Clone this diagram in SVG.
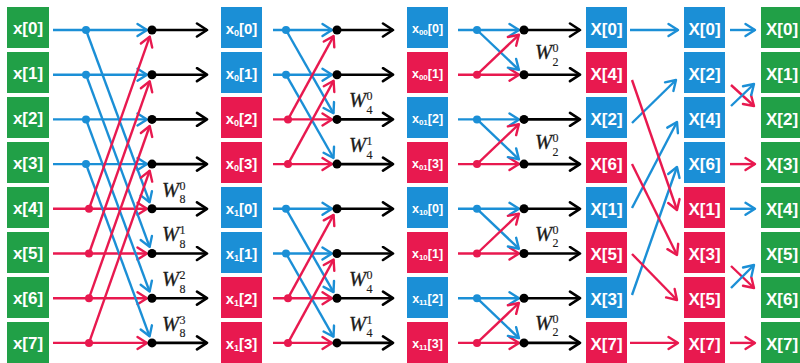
<svg xmlns="http://www.w3.org/2000/svg" width="800" height="363" viewBox="0 0 800 363">
  <defs>
    <style>
      .g { fill: #21a047; }
      .b { fill: #1b8fd6; }
      .r { fill: #e8194f; }
      .lbl { fill: #ffffff; font-family: "Liberation Sans", Arial, Helvetica, sans-serif; font-weight: bold; text-anchor: middle; }
      .t1 { font-size: 17px; }
      .t2 { font-size: 15px; }
      .t3 { font-size: 12.5px; }
      .s2 { font-size: 9px; }
      .s3 { font-size: 8px; }
      .lb { stroke: #1b8fd6; stroke-width: 2.4; fill: none; marker-end: url(#ab); }
      .lr { stroke: #e8194f; stroke-width: 2.4; fill: none; marker-end: url(#ar); }
      .lk { stroke: #000000; stroke-width: 2.6; fill: none; marker-end: url(#ak); }
      .dk { fill: #000000; }
      .db { fill: #1b8fd6; }
      .dr { fill: #e8194f; }
      .tw { font-family: "Liberation Serif", "Times New Roman", serif; fill: #1a1a1a; font-size: 12px; stroke: #1a1a1a; stroke-width: 0.15; }
      .w { font-style: italic; font-size: 20.5px; stroke-width: 0.3; }
    </style>
    <marker id="ab" viewBox="-12 -8 14 16" refX="0" refY="0" markerWidth="14" markerHeight="16" markerUnits="userSpaceOnUse" orient="auto">
      <path d="M-9.5,-6 L0,0 L-9.5,6" fill="none" stroke="#1b8fd6" stroke-width="2.4" stroke-linecap="round" stroke-linejoin="round"/>
    </marker>
    <marker id="ar" viewBox="-12 -8 14 16" refX="0" refY="0" markerWidth="14" markerHeight="16" markerUnits="userSpaceOnUse" orient="auto">
      <path d="M-9.5,-6 L0,0 L-9.5,6" fill="none" stroke="#e8194f" stroke-width="2.4" stroke-linecap="round" stroke-linejoin="round"/>
    </marker>
    <marker id="ak" viewBox="-12 -8 14 16" refX="0" refY="0" markerWidth="14" markerHeight="16" markerUnits="userSpaceOnUse" orient="auto">
      <path d="M-10,-6.5 L0,0 L-10,6.5" fill="none" stroke="#000000" stroke-width="2.6" stroke-linecap="round" stroke-linejoin="round"/>
    </marker>
  </defs>

  <rect width="800" height="363" fill="#ffffff"/>

  <!-- Column 1: time-domain inputs -->
  <g id="col1">
    <g id="in0"><rect class="g" x="7" y="7" width="42" height="41"/><text class="lbl t1" x="28" y="34">x[0]</text></g>
    <g id="in1"><rect class="g" x="7" y="52" width="42" height="41"/><text class="lbl t1" x="28" y="79">x[1]</text></g>
    <g id="in2"><rect class="g" x="7" y="97" width="42" height="41"/><text class="lbl t1" x="28" y="124">x[2]</text></g>
    <g id="in3"><rect class="g" x="7" y="142" width="42" height="41"/><text class="lbl t1" x="28" y="169">x[3]</text></g>
    <g id="in4"><rect class="g" x="7" y="187" width="42" height="41"/><text class="lbl t1" x="28" y="214">x[4]</text></g>
    <g id="in5"><rect class="g" x="7" y="232" width="42" height="41"/><text class="lbl t1" x="28" y="259">x[5]</text></g>
    <g id="in6"><rect class="g" x="7" y="277" width="42" height="41"/><text class="lbl t1" x="28" y="304">x[6]</text></g>
    <g id="in7"><rect class="g" x="7" y="322" width="42" height="41"/><text class="lbl t1" x="28" y="349">x[7]</text></g>
  </g>

  <!-- Column 2: first split -->
  <g id="col2">
    <g id="s1_0"><rect class="b" x="221" y="7" width="41" height="41"/><text class="lbl t2" x="241.5" y="33.5">x<tspan class="s2" dy="2">0</tspan><tspan dy="-2">[0]</tspan></text></g>
    <g id="s1_1"><rect class="b" x="221" y="52" width="41" height="41"/><text class="lbl t2" x="241.5" y="78.5">x<tspan class="s2" dy="2">0</tspan><tspan dy="-2">[1]</tspan></text></g>
    <g id="s1_2"><rect class="r" x="221" y="97" width="41" height="41"/><text class="lbl t2" x="241.5" y="123.5">x<tspan class="s2" dy="2">0</tspan><tspan dy="-2">[2]</tspan></text></g>
    <g id="s1_3"><rect class="r" x="221" y="142" width="41" height="41"/><text class="lbl t2" x="241.5" y="168.5">x<tspan class="s2" dy="2">0</tspan><tspan dy="-2">[3]</tspan></text></g>
    <g id="s1_4"><rect class="b" x="221" y="187" width="41" height="41"/><text class="lbl t2" x="241.5" y="213.5">x<tspan class="s2" dy="2">1</tspan><tspan dy="-2">[0]</tspan></text></g>
    <g id="s1_5"><rect class="b" x="221" y="232" width="41" height="41"/><text class="lbl t2" x="241.5" y="258.5">x<tspan class="s2" dy="2">1</tspan><tspan dy="-2">[1]</tspan></text></g>
    <g id="s1_6"><rect class="r" x="221" y="277" width="41" height="41"/><text class="lbl t2" x="241.5" y="303.5">x<tspan class="s2" dy="2">1</tspan><tspan dy="-2">[2]</tspan></text></g>
    <g id="s1_7"><rect class="r" x="221" y="322" width="41" height="41"/><text class="lbl t2" x="241.5" y="348.5">x<tspan class="s2" dy="2">1</tspan><tspan dy="-2">[3]</tspan></text></g>
  </g>

  <!-- Column 3: second split -->
  <g id="col3">
    <g id="s2_0"><rect class="b" x="407" y="7" width="41" height="41"/><text class="lbl t3" x="427.5" y="32.5">x<tspan class="s3" dy="2">00</tspan><tspan dy="-2">[0]</tspan></text></g>
    <g id="s2_1"><rect class="r" x="407" y="52" width="41" height="41"/><text class="lbl t3" x="427.5" y="77.5">x<tspan class="s3" dy="2">00</tspan><tspan dy="-2">[1]</tspan></text></g>
    <g id="s2_2"><rect class="b" x="407" y="97" width="41" height="41"/><text class="lbl t3" x="427.5" y="122.5">x<tspan class="s3" dy="2">01</tspan><tspan dy="-2">[2]</tspan></text></g>
    <g id="s2_3"><rect class="r" x="407" y="142" width="41" height="41"/><text class="lbl t3" x="427.5" y="167.5">x<tspan class="s3" dy="2">01</tspan><tspan dy="-2">[3]</tspan></text></g>
    <g id="s2_4"><rect class="b" x="407" y="187" width="41" height="41"/><text class="lbl t3" x="427.5" y="212.5">x<tspan class="s3" dy="2">10</tspan><tspan dy="-2">[0]</tspan></text></g>
    <g id="s2_5"><rect class="r" x="407" y="232" width="41" height="41"/><text class="lbl t3" x="427.5" y="257.5">x<tspan class="s3" dy="2">10</tspan><tspan dy="-2">[1]</tspan></text></g>
    <g id="s2_6"><rect class="b" x="407" y="277" width="41" height="41"/><text class="lbl t3" x="427.5" y="302.5">x<tspan class="s3" dy="2">11</tspan><tspan dy="-2">[2]</tspan></text></g>
    <g id="s2_7"><rect class="r" x="407" y="322" width="41" height="41"/><text class="lbl t3" x="427.5" y="347.5">x<tspan class="s3" dy="2">11</tspan><tspan dy="-2">[3]</tspan></text></g>
  </g>

  <!-- Column 4: butterfly outputs (bit-reversed order) -->
  <g id="col4">
    <g id="o1_0"><rect class="b" x="586" y="7" width="41" height="41"/><text class="lbl t1" x="606.5" y="35">X[0]</text></g>
    <g id="o1_1"><rect class="r" x="586" y="52" width="41" height="41"/><text class="lbl t1" x="606.5" y="80">X[4]</text></g>
    <g id="o1_2"><rect class="b" x="586" y="97" width="41" height="41"/><text class="lbl t1" x="606.5" y="125">X[2]</text></g>
    <g id="o1_3"><rect class="r" x="586" y="142" width="41" height="41"/><text class="lbl t1" x="606.5" y="170">X[6]</text></g>
    <g id="o1_4"><rect class="b" x="586" y="187" width="41" height="41"/><text class="lbl t1" x="606.5" y="215">X[1]</text></g>
    <g id="o1_5"><rect class="r" x="586" y="232" width="41" height="41"/><text class="lbl t1" x="606.5" y="260">X[5]</text></g>
    <g id="o1_6"><rect class="b" x="586" y="277" width="41" height="41"/><text class="lbl t1" x="606.5" y="305">X[3]</text></g>
    <g id="o1_7"><rect class="r" x="586" y="322" width="41" height="41"/><text class="lbl t1" x="606.5" y="350">X[7]</text></g>
  </g>

  <!-- Column 5: first reordering pass -->
  <g id="col5">
    <g id="o2_0"><rect class="b" x="684" y="7" width="41" height="41"/><text class="lbl t1" x="704.5" y="35">X[0]</text></g>
    <g id="o2_1"><rect class="b" x="684" y="52" width="41" height="41"/><text class="lbl t1" x="704.5" y="80">X[2]</text></g>
    <g id="o2_2"><rect class="b" x="684" y="97" width="41" height="41"/><text class="lbl t1" x="704.5" y="125">X[4]</text></g>
    <g id="o2_3"><rect class="b" x="684" y="142" width="41" height="41"/><text class="lbl t1" x="704.5" y="170">X[6]</text></g>
    <g id="o2_4"><rect class="r" x="684" y="187" width="41" height="41"/><text class="lbl t1" x="704.5" y="215">X[1]</text></g>
    <g id="o2_5"><rect class="r" x="684" y="232" width="41" height="41"/><text class="lbl t1" x="704.5" y="260">X[3]</text></g>
    <g id="o2_6"><rect class="r" x="684" y="277" width="41" height="41"/><text class="lbl t1" x="704.5" y="305">X[5]</text></g>
    <g id="o2_7"><rect class="r" x="684" y="322" width="41" height="41"/><text class="lbl t1" x="704.5" y="350">X[7]</text></g>
  </g>

  <!-- Column 6: frequency-domain outputs in natural order -->
  <g id="col6">
    <g id="out0"><rect class="g" x="761" y="7" width="42" height="41"/><text class="lbl t1" x="782" y="35">X[0]</text></g>
    <g id="out1"><rect class="g" x="761" y="52" width="42" height="41"/><text class="lbl t1" x="782" y="80">X[1]</text></g>
    <g id="out2"><rect class="g" x="761" y="97" width="42" height="41"/><text class="lbl t1" x="782" y="125">X[2]</text></g>
    <g id="out3"><rect class="g" x="761" y="142" width="42" height="41"/><text class="lbl t1" x="782" y="170">X[3]</text></g>
    <g id="out4"><rect class="g" x="761" y="187" width="42" height="41"/><text class="lbl t1" x="782" y="215">X[4]</text></g>
    <g id="out5"><rect class="g" x="761" y="232" width="42" height="41"/><text class="lbl t1" x="782" y="260">X[5]</text></g>
    <g id="out6"><rect class="g" x="761" y="277" width="42" height="41"/><text class="lbl t1" x="782" y="305">X[6]</text></g>
    <g id="out7"><rect class="g" x="761" y="322" width="42" height="41"/><text class="lbl t1" x="782" y="350">X[7]</text></g>
  </g>

  <g id="connectors">
    <!-- Stage 1: 8-point butterflies -->
    <g id="stage1">
      <line class="lb" x1="53" y1="30" x2="147" y2="30"/>
      <line class="lb" x1="53" y1="74.7" x2="147" y2="74.7"/>
      <line class="lb" x1="53" y1="119.4" x2="147" y2="119.4"/>
      <line class="lb" x1="53" y1="164.1" x2="147" y2="164.1"/>
      <line class="lr" x1="53" y1="208.8" x2="147" y2="208.8"/>
      <line class="lr" x1="53" y1="253.5" x2="147" y2="253.5"/>
      <line class="lr" x1="53" y1="298.2" x2="147" y2="298.2"/>
      <line class="lr" x1="53" y1="342.9" x2="147" y2="342.9"/>
      <line class="lb" x1="86" y1="30" x2="149.6" y2="202.2"/>
      <line class="lb" x1="86" y1="74.7" x2="149.6" y2="246.9"/>
      <line class="lb" x1="86" y1="119.4" x2="149.6" y2="291.6"/>
      <line class="lb" x1="86" y1="164.1" x2="149.6" y2="336.3"/>
      <line class="lr" x1="89" y1="208.8" x2="149.7" y2="36.6"/>
      <line class="lr" x1="89" y1="253.5" x2="149.7" y2="81.3"/>
      <line class="lr" x1="89" y1="298.2" x2="149.7" y2="126"/>
      <line class="lr" x1="89" y1="342.9" x2="149.7" y2="170.7"/>
      <circle class="db" cx="86" cy="30" r="4"/>
      <circle class="db" cx="86" cy="74.7" r="4"/>
      <circle class="db" cx="86" cy="119.4" r="4"/>
      <circle class="db" cx="86" cy="164.1" r="4"/>
      <circle class="dr" cx="89" cy="208.8" r="4"/>
      <circle class="dr" cx="89" cy="253.5" r="4"/>
      <circle class="dr" cx="89" cy="298.2" r="4"/>
      <circle class="dr" cx="89" cy="342.9" r="4"/>
      <line class="lk" x1="152" y1="30" x2="207" y2="30"/>
      <line class="lk" x1="152" y1="74.7" x2="207" y2="74.7"/>
      <line class="lk" x1="152" y1="119.4" x2="207" y2="119.4"/>
      <line class="lk" x1="152" y1="164.1" x2="207" y2="164.1"/>
      <line class="lk" x1="152" y1="208.8" x2="207" y2="208.8"/>
      <line class="lk" x1="152" y1="253.5" x2="207" y2="253.5"/>
      <line class="lk" x1="152" y1="298.2" x2="207" y2="298.2"/>
      <line class="lk" x1="152" y1="342.9" x2="207" y2="342.9"/>
      <circle class="dk" cx="152" cy="30" r="4.5"/>
      <circle class="dk" cx="152" cy="74.7" r="4.5"/>
      <circle class="dk" cx="152" cy="119.4" r="4.5"/>
      <circle class="dk" cx="152" cy="164.1" r="4.5"/>
      <circle class="dk" cx="152" cy="208.8" r="4.5"/>
      <circle class="dk" cx="152" cy="253.5" r="4.5"/>
      <circle class="dk" cx="152" cy="298.2" r="4.5"/>
      <circle class="dk" cx="152" cy="342.9" r="4.5"/>
    </g>

    <!-- Stage 2: 4-point butterflies -->
    <g id="stage2">
      <line class="lb" x1="273" y1="30" x2="332" y2="30"/>
      <line class="lb" x1="273" y1="74.7" x2="332" y2="74.7"/>
      <line class="lr" x1="273" y1="119.4" x2="332" y2="119.4"/>
      <line class="lr" x1="273" y1="164.1" x2="332" y2="164.1"/>
      <line class="lb" x1="273" y1="208.8" x2="332" y2="208.8"/>
      <line class="lb" x1="273" y1="253.5" x2="332" y2="253.5"/>
      <line class="lr" x1="273" y1="298.2" x2="332" y2="298.2"/>
      <line class="lr" x1="273" y1="342.9" x2="332" y2="342.9"/>
      <line class="lb" x1="286" y1="30" x2="333.5" y2="113.3"/>
      <line class="lb" x1="286" y1="74.7" x2="333.5" y2="158"/>
      <line class="lb" x1="286" y1="208.8" x2="333.5" y2="292.1"/>
      <line class="lb" x1="286" y1="253.5" x2="333.5" y2="336.8"/>
      <line class="lr" x1="288" y1="119.4" x2="333.6" y2="36.1"/>
      <line class="lr" x1="288" y1="164.1" x2="333.6" y2="80.8"/>
      <line class="lr" x1="288" y1="298.2" x2="333.6" y2="214.9"/>
      <line class="lr" x1="288" y1="342.9" x2="333.6" y2="259.6"/>
      <circle class="db" cx="286" cy="30" r="4"/>
      <circle class="db" cx="286" cy="74.7" r="4"/>
      <circle class="dr" cx="288" cy="119.4" r="4"/>
      <circle class="dr" cx="288" cy="164.1" r="4"/>
      <circle class="db" cx="286" cy="208.8" r="4"/>
      <circle class="db" cx="286" cy="253.5" r="4"/>
      <circle class="dr" cx="288" cy="298.2" r="4"/>
      <circle class="dr" cx="288" cy="342.9" r="4"/>
      <line class="lk" x1="337" y1="30" x2="393" y2="30"/>
      <line class="lk" x1="337" y1="74.7" x2="393" y2="74.7"/>
      <line class="lk" x1="337" y1="119.4" x2="393" y2="119.4"/>
      <line class="lk" x1="337" y1="164.1" x2="393" y2="164.1"/>
      <line class="lk" x1="337" y1="208.8" x2="393" y2="208.8"/>
      <line class="lk" x1="337" y1="253.5" x2="393" y2="253.5"/>
      <line class="lk" x1="337" y1="298.2" x2="393" y2="298.2"/>
      <line class="lk" x1="337" y1="342.9" x2="393" y2="342.9"/>
      <circle class="dk" cx="337" cy="30" r="4.5"/>
      <circle class="dk" cx="337" cy="74.7" r="4.5"/>
      <circle class="dk" cx="337" cy="119.4" r="4.5"/>
      <circle class="dk" cx="337" cy="164.1" r="4.5"/>
      <circle class="dk" cx="337" cy="208.8" r="4.5"/>
      <circle class="dk" cx="337" cy="253.5" r="4.5"/>
      <circle class="dk" cx="337" cy="298.2" r="4.5"/>
      <circle class="dk" cx="337" cy="342.9" r="4.5"/>
    </g>

    <!-- Stage 3: 2-point butterflies -->
    <g id="stage3">
      <line class="lb" x1="458" y1="30" x2="519" y2="30"/>
      <line class="lr" x1="458" y1="74.7" x2="519" y2="74.7"/>
      <line class="lb" x1="458" y1="119.4" x2="519" y2="119.4"/>
      <line class="lr" x1="458" y1="164.1" x2="519" y2="164.1"/>
      <line class="lb" x1="458" y1="208.8" x2="519" y2="208.8"/>
      <line class="lr" x1="458" y1="253.5" x2="519" y2="253.5"/>
      <line class="lb" x1="458" y1="298.2" x2="519" y2="298.2"/>
      <line class="lr" x1="458" y1="342.9" x2="519" y2="342.9"/>
      <line class="lb" x1="477" y1="30" x2="518.9" y2="69.9"/>
      <line class="lb" x1="477" y1="119.4" x2="518.9" y2="159.3"/>
      <line class="lb" x1="477" y1="208.8" x2="518.9" y2="248.7"/>
      <line class="lb" x1="477" y1="298.2" x2="518.9" y2="338.1"/>
      <line class="lr" x1="477" y1="74.7" x2="518.9" y2="34.8"/>
      <line class="lr" x1="477" y1="164.1" x2="518.9" y2="124.2"/>
      <line class="lr" x1="477" y1="253.5" x2="518.9" y2="213.6"/>
      <line class="lr" x1="477" y1="342.9" x2="518.9" y2="303"/>
      <circle class="db" cx="477" cy="30" r="4"/>
      <circle class="dr" cx="477" cy="74.7" r="4"/>
      <circle class="db" cx="477" cy="119.4" r="4"/>
      <circle class="dr" cx="477" cy="164.1" r="4"/>
      <circle class="db" cx="477" cy="208.8" r="4"/>
      <circle class="dr" cx="477" cy="253.5" r="4"/>
      <circle class="db" cx="477" cy="298.2" r="4"/>
      <circle class="dr" cx="477" cy="342.9" r="4"/>
      <line class="lk" x1="524" y1="30" x2="580" y2="30"/>
      <line class="lk" x1="524" y1="74.7" x2="580" y2="74.7"/>
      <line class="lk" x1="524" y1="119.4" x2="580" y2="119.4"/>
      <line class="lk" x1="524" y1="164.1" x2="580" y2="164.1"/>
      <line class="lk" x1="524" y1="208.8" x2="580" y2="208.8"/>
      <line class="lk" x1="524" y1="253.5" x2="580" y2="253.5"/>
      <line class="lk" x1="524" y1="298.2" x2="580" y2="298.2"/>
      <line class="lk" x1="524" y1="342.9" x2="580" y2="342.9"/>
      <circle class="dk" cx="524" cy="30" r="4.5"/>
      <circle class="dk" cx="524" cy="74.7" r="4.5"/>
      <circle class="dk" cx="524" cy="119.4" r="4.5"/>
      <circle class="dk" cx="524" cy="164.1" r="4.5"/>
      <circle class="dk" cx="524" cy="208.8" r="4.5"/>
      <circle class="dk" cx="524" cy="253.5" r="4.5"/>
      <circle class="dk" cx="524" cy="298.2" r="4.5"/>
      <circle class="dk" cx="524" cy="342.9" r="4.5"/>
    </g>

    <!-- Reordering pass 1 -->
    <g id="reorder1">
      <line class="lb" x1="630" y1="30" x2="678" y2="30"/>
      <line class="lb" x1="632" y1="123" x2="676" y2="80"/>
      <line class="lb" x1="632" y1="208" x2="677" y2="122"/>
      <line class="lb" x1="632" y1="295" x2="677" y2="167"/>
      <line class="lr" x1="632" y1="80" x2="677" y2="210"/>
      <line class="lr" x1="632" y1="164" x2="677" y2="255"/>
      <line class="lr" x1="632" y1="254" x2="677" y2="300"/>
      <line class="lr" x1="630" y1="342.9" x2="678" y2="342.9"/>
    </g>

    <!-- Reordering pass 2 -->
    <g id="reorder2">
      <line class="lb" x1="730" y1="30" x2="755" y2="30"/>
      <line class="lr" x1="731" y1="85" x2="754" y2="106"/>
      <line class="lb" x1="731" y1="106" x2="754" y2="84"/>
      <line class="lr" x1="730" y1="164.1" x2="755" y2="164.1"/>
      <line class="lb" x1="730" y1="208.8" x2="755" y2="208.8"/>
      <line class="lr" x1="731" y1="266" x2="754" y2="288"/>
      <line class="lb" x1="731" y1="288" x2="754" y2="265"/>
      <line class="lr" x1="730" y1="342.9" x2="755" y2="342.9"/>
    </g>
  </g>

  <!-- Twiddle factors: italic W with stacked upright exponent and order -->
  <g id="twiddles">
    <text class="tw" x="162" y="196.5"><tspan class="w">W</tspan><tspan x="179.5" dy="-6.8">0</tspan><tspan x="179.5" dy="13.6">8</tspan></text>
    <text class="tw" x="162" y="241.2"><tspan class="w">W</tspan><tspan x="179.5" dy="-6.8">1</tspan><tspan x="179.5" dy="13.6">8</tspan></text>
    <text class="tw" x="162" y="285.9"><tspan class="w">W</tspan><tspan x="179.5" dy="-6.8">2</tspan><tspan x="179.5" dy="13.6">8</tspan></text>
    <text class="tw" x="162" y="330.6"><tspan class="w">W</tspan><tspan x="179.5" dy="-6.8">3</tspan><tspan x="179.5" dy="13.6">8</tspan></text>

    <text class="tw" x="349" y="107"><tspan class="w">W</tspan><tspan x="366.5" dy="-6.8">0</tspan><tspan x="366.5" dy="13.6">4</tspan></text>
    <text class="tw" x="349" y="151.7"><tspan class="w">W</tspan><tspan x="366.5" dy="-6.8">1</tspan><tspan x="366.5" dy="13.6">4</tspan></text>
    <text class="tw" x="349" y="285.9"><tspan class="w">W</tspan><tspan x="366.5" dy="-6.8">0</tspan><tspan x="366.5" dy="13.6">4</tspan></text>
    <text class="tw" x="349" y="330.6"><tspan class="w">W</tspan><tspan x="366.5" dy="-6.8">1</tspan><tspan x="366.5" dy="13.6">4</tspan></text>

    <text class="tw" x="535" y="59"><tspan class="w">W</tspan><tspan x="552.5" dy="-6.8">0</tspan><tspan x="552.5" dy="13.6">2</tspan></text>
    <text class="tw" x="535" y="149"><tspan class="w">W</tspan><tspan x="552.5" dy="-6.8">0</tspan><tspan x="552.5" dy="13.6">2</tspan></text>
    <text class="tw" x="535" y="240.5"><tspan class="w">W</tspan><tspan x="552.5" dy="-6.8">0</tspan><tspan x="552.5" dy="13.6">2</tspan></text>
    <text class="tw" x="535" y="329.5"><tspan class="w">W</tspan><tspan x="552.5" dy="-6.8">0</tspan><tspan x="552.5" dy="13.6">2</tspan></text>
  </g>
</svg>
